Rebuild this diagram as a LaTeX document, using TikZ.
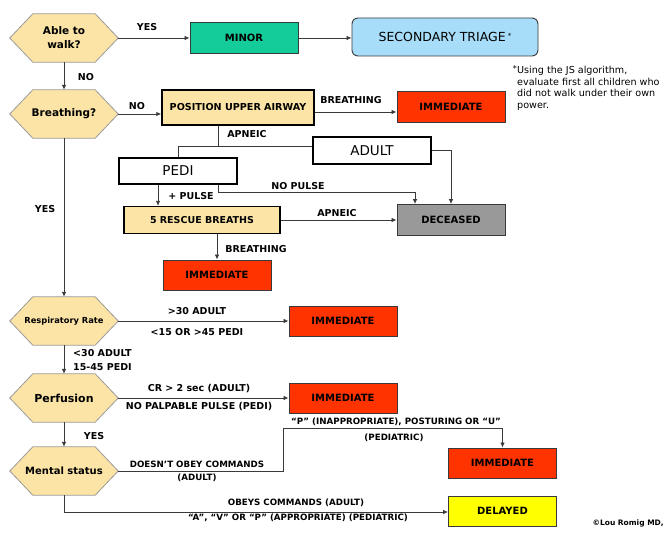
\documentclass[tikz,border=0pt]{standalone}
\usepackage{fontspec}
\setmainfont{DejaVu Sans}
\usetikzlibrary{arrows.meta,backgrounds}
\definecolor{hexfill}{HTML}{FCE4A6}
\definecolor{hexline}{HTML}{9A9A9A}
\definecolor{teal}{HTML}{14CC9A}
\definecolor{skyblue}{HTML}{A8DDFA}
\definecolor{immred}{HTML}{FF3300}
\definecolor{decgray}{HTML}{999999}
\definecolor{delyel}{HTML}{FFFF00}
\definecolor{linec}{HTML}{3A3A3A}
\tikzset{
  hexnode/.style={minimum width=108pt, minimum height=48pt, inner sep=0pt, align=center, font=\fontsize{10.5}{14}\selectfont\bfseries},
  box/.style={draw=linec, line width=0.9pt, minimum width=108pt, minimum height=30pt, inner sep=0pt, font=\fontsize{10}{11}\selectfont\bfseries},
  thickbox/.style={draw=black, line width=1.5pt, inner sep=0pt, fill=hexfill},
  lab/.style={font=\fontsize{9.5}{10}\selectfont\bfseries, inner sep=0pt},
  smlab/.style={font=\fontsize{8.7}{10}\selectfont\bfseries, inner sep=0pt},
  conn/.style={draw=linec, line width=0.8pt},
  arr/.style={conn, -{Latex[length=5pt,width=4.5pt]}},
}
\begin{document}
\begin{tikzpicture}[x=1pt,y=-1pt]
\useasboundingbox (0,0) rectangle (664,534);
% hexagon nodes
\node[hexnode] (walk) at (64,38) {Able to\\walk?};
\node[hexnode] (breath) at (64,114) {Breathing?};
\node[hexnode, font=\fontsize{8.3}{10}\selectfont\bfseries] (resp) at (64,321) {Respiratory Rate};
\node[hexnode, font=\fontsize{11}{13}\selectfont\bfseries] (perf) at (64,398) {Perfusion};
\node[hexnode, font=\fontsize{10}{13}\selectfont\bfseries] (mental) at (64,471) {Mental status};
\begin{scope}[on background layer]
\foreach \n in {walk,breath,resp,perf,mental}
  \draw[fill=hexfill, draw=hexline, line width=0.8pt] (\n.west) -- ([xshift=23pt]\n.north west) -- ([xshift=-23pt]\n.north east) -- (\n.east) -- ([xshift=-23pt]\n.south east) -- ([xshift=23pt]\n.south west) -- cycle;
\end{scope}
% boxes
\node[box, fill=teal, minimum height=31pt] (minor) at (244,38) {MINOR};
\node[draw=linec, line width=0.9pt, fill=skyblue, rounded corners=6pt, minimum width=186pt, minimum height=38pt, font=\fontsize{12.5}{13}\selectfont] (sec) at (445,37) {SECONDARY TRIAGE\,\raisebox{3pt}{\fontsize{7}{8}\selectfont *}};
\node[thickbox, minimum width=152pt, minimum height=35pt, font=\fontsize{9.6}{11}\selectfont\bfseries] (pos) at (238,107.5) {POSITION UPPER AIRWAY};
\node[box, fill=immred, minimum height=31pt] (imm1) at (451,107) {IMMEDIATE};
\node[draw=black, line width=1.5pt, fill=white, minimum width=118pt, minimum height=27pt, inner sep=0pt, font=\fontsize{13.5}{14}\selectfont] (adult) at (372,150.5) {ADULT};
\node[draw=black, line width=1.5pt, fill=white, minimum width=118pt, minimum height=26pt, inner sep=0pt, font=\fontsize{13.5}{14}\selectfont] (pedi) at (178,171) {PEDI};
\node[thickbox, line width=1.2pt, minimum width=156pt, minimum height=27pt, font=\fontsize{9.5}{11}\selectfont\bfseries] (rescue) at (202,220) {5 RESCUE BREATHS};
\node[box, fill=decgray, minimum height=31pt] (dec) at (451,220) {DECEASED};
\node[box, fill=immred] (imm2) at (217,275) {IMMEDIATE};
\node[box, fill=immred] (imm3) at (343,321) {IMMEDIATE};
\node[box, fill=immred] (imm4) at (343,398) {IMMEDIATE};
\node[box, fill=immred] (imm5) at (502.5,463) {IMMEDIATE};
\node[box, fill=delyel] (del) at (502.5,511) {DELAYED};
% note
\node[anchor=north west, inner sep=0pt, align=left, font=\fontsize{9.6}{11.7}\selectfont] (note) at (517,66) {Using the JS algorithm,\\evaluate first all children who\\did not walk under their own\\power.};
\node[anchor=north east, inner sep=0pt, font=\fontsize{8}{8}\selectfont] (star) at ([yshift=1pt]note.north west) {*};
\node[anchor=east, inner sep=0pt, font=\fontsize{7.5}{8}\selectfont\bfseries] (copy) at (664,523) {\textcopyright Lou Romig MD,};
% connectors
\draw[arr] (walk.east) -- (minor.west);
\node[lab] (l1) at (147,27) {YES};
\draw[arr] (minor.east) -- (minor.east -| sec.west);
\draw[arr] (walk.south) -- (breath.north);
\node[lab] (l2) at (86,77) {NO};
\draw[arr] (breath.east) -- (breath.east -| pos.west);
\node[lab] (l3) at (137,106) {NO};
\draw[arr] ([yshift=-4.5pt]pos.east) coordinate (p1) -- (p1 -| imm1.west);
\node[lab] (l4) at (351,100) {BREATHING};
\coordinate (j1) at (218,146);
\draw[conn] (pos.south -| j1) -- (j1);
\draw[conn] (pedi.north) |- (adult.west |- j1);
\node[lab] (l5) at (247,134) {APNEIC};
\draw[arr] ([xshift=-20pt]pedi.south) -- ([xshift=-20pt]pedi.south |- rescue.north);
\node[lab] (l6) at (191,196) {+ PULSE};
\coordinate (j2) at (218,192);
\draw[arr] (pedi.south -| j2) -- (j2) -| ([xshift=-36pt]dec.north);
\node[lab] (l7) at (298,186) {NO PULSE};
\draw[arr] (adult.east) -| (dec.north);
\draw[arr] (rescue.east) -- (rescue.east -| dec.west);
\node[lab] (l8) at (337,213) {APNEIC};
\draw[arr] (imm2.north |- rescue.south) -- (imm2.north);
\node[lab] (l9) at (256,249) {BREATHING};
\draw[arr] (breath.south) -- (resp.north);
\node[lab] (l10) at (45,209) {YES};
\draw[arr] (resp.east) -- (imm3.west);
\node[lab] (l11) at (197,311) {>30 ADULT};
\node[lab] (l12) at (197,332) {<15 OR >45 PEDI};
\draw[arr] (resp.south) -- (perf.north);
\node[lab, anchor=west] (l13) at (73,353) {<30 ADULT};
\node[lab, anchor=west] (l14) at (73,367) {15-45 PEDI};
\draw[arr] (perf.east) -- (imm4.west);
\node[lab] (l15) at (199,389) {CR > 2 sec (ADULT)};
\node[lab] (l16) at (199,407) {NO PALPABLE PULSE (PEDI)};
\draw[arr] (perf.south) -- (mental.north);
\node[lab] (l17) at (94,436) {YES};
\coordinate (j3) at (283,428);
\draw[arr] (mental.east) -| (j3) -| (imm5.north);
\node[smlab] (l18) at (197,464) {DOESN'T OBEY COMMANDS};
\node[smlab] (l19) at (197,478) {(ADULT)};
\node[smlab] (l20) at (396,422) {``P'' (INAPPROPRIATE), POSTURING OR ``U''};
\node[smlab] (l21) at (394,438) {(PEDIATRIC)};
\draw[arr] (mental.south) |- ([yshift=-1pt]del.west);
\node[smlab] (l22) at (296,503) {OBEYS COMMANDS (ADULT)};
\node[smlab] (l23) at (298,518) {``A'', ``V'' OR ``P'' (APPROPRIATE) (PEDIATRIC)};
\end{tikzpicture}
\end{document}
